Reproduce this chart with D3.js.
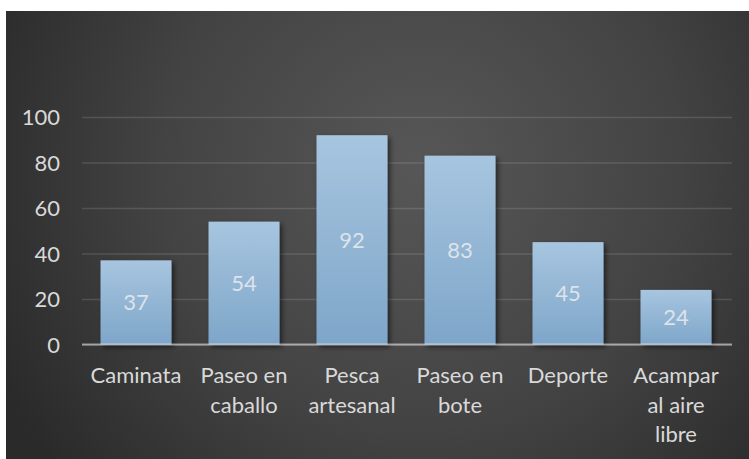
<!DOCTYPE html>
<html>
<head>
<meta charset="utf-8">
<script src="https://cdn.jsdelivr.net/npm/d3@7/dist/d3.min.js"></script>
<style>
  html, body { margin: 0; padding: 0; background: #ffffff; }
  svg { display: block; }
  text { font-family: Lato, "Open Sans", sans-serif; }
</style>
</head>
<body>
<svg id="chart" width="749" height="459"></svg>
<script>
// Activity counts
const categories = ["Caminata", "Paseo en caballo", "Pesca artesanal", "Paseo en bote", "Deporte", "Acampar al aire libre"];
const values = [37, 54, 92, 83, 45, 24];
const yTicks = [0, 20, 40, 60, 80, 100];

const W = 749, H = 459;
const frame = { x: 6, y: 11 };
const plot = { left: 82, right: 730, top: 117, bottom: 344.5 };
const textColor = "#d9d9d9";
const fontSize = 22;

const svg = d3.select("#chart");
const defs = svg.append("defs");

// Background: dark radial fill, brighter near the middle
const bg = defs.append("radialGradient")
  .attr("id", "bgGrad")
  .attr("gradientUnits", "userSpaceOnUse")
  .attr("cx", 420).attr("cy", 170).attr("r", 470);
bg.append("stop").attr("offset", "0%").attr("stop-color", "#575757");
bg.append("stop").attr("offset", "55%").attr("stop-color", "#434343");
bg.append("stop").attr("offset", "100%").attr("stop-color", "#2a2a2a");

// Bars: soft blue vertical gradient
const barGrad = defs.append("linearGradient")
  .attr("id", "barGrad").attr("x1", 0).attr("y1", 0).attr("x2", 0).attr("y2", 1);
barGrad.append("stop").attr("offset", "0%").attr("stop-color", "#a7c5df");
barGrad.append("stop").attr("offset", "100%").attr("stop-color", "#7ea6c9");

const shadow = defs.append("filter").attr("id", "barShadow")
  .attr("x", "-20%").attr("y", "-20%").attr("width", "150%").attr("height", "150%");
shadow.append("feDropShadow")
  .attr("dx", 2.5).attr("dy", 2.5).attr("stdDeviation", 2.5)
  .attr("flood-color", "#000").attr("flood-opacity", 0.55);

svg.append("rect")
  .attr("x", frame.x).attr("y", frame.y)
  .attr("width", W - frame.x).attr("height", H - frame.y)
  .attr("fill", "url(#bgGrad)");

const x = d3.scaleBand()
  .domain(categories)
  .range([plot.left, plot.right])
  .paddingInner(0.343)
  .paddingOuter(0.1715);

const y = d3.scaleLinear()
  .domain([0, 100])
  .range([plot.bottom, plot.top]);

// Gridlines and y tick labels
const yAxis = d3.axisLeft(y)
  .tickValues(yTicks)
  .tickSize(-(plot.right + 2 - plot.left))
  .tickPadding(22);

const yG = svg.append("g")
  .attr("transform", `translate(${plot.left},0)`)
  .call(yAxis);
yG.select(".domain").remove();
yG.selectAll(".tick line")
  .attr("stroke", "#ffffff").attr("stroke-opacity", 0.13).attr("stroke-width", 1.5);
yG.selectAll(".tick text")
  .attr("fill", textColor)
  .style("font-size", fontSize + "px")
  .attr("dy", "0.35em");

// Bars
svg.append("g").selectAll("rect")
  .data(values)
  .join("rect")
  .attr("x", (d, i) => x(categories[i]))
  .attr("y", d => y(d))
  .attr("width", x.bandwidth())
  .attr("height", d => y(0) - y(d))
  .attr("fill", "url(#barGrad)")
  .attr("filter", "url(#barShadow)");

// Baseline
svg.append("line")
  .attr("x1", plot.left).attr("x2", plot.right + 2)
  .attr("y1", y(0)).attr("y2", y(0))
  .attr("stroke", "#ffffff").attr("stroke-opacity", 0.5).attr("stroke-width", 2);

// Value labels centred in each bar
svg.append("g").selectAll("text")
  .data(values)
  .join("text")
  .attr("x", (d, i) => x(categories[i]) + x.bandwidth() / 2)
  .attr("y", d => (y(d) + y(0)) / 2)
  .attr("dy", "0.35em")
  .attr("text-anchor", "middle")
  .attr("fill", "#dde3ea")
  .style("font-size", fontSize + "px")
  .text(d => d);

// Category labels, wrapped to the band width
const xAxis = d3.axisBottom(x).tickSize(0).tickPadding(0);
const xG = svg.append("g")
  .attr("transform", `translate(0,${plot.bottom})`)
  .call(xAxis);
xG.select(".domain").remove();

const maxWidth = x.step() * 0.95;
const lineHeight = 29.5;
xG.selectAll(".tick text")
  .attr("fill", textColor)
  .style("font-size", fontSize + "px")
  .each(function (d) {
    const t = d3.select(this);
    const words = d.split(" ");
    t.text(null).attr("y", 0).attr("dy", null);
    const lines = [];
    let line = [];
    const probe = t.append("tspan");
    words.forEach(w => {
      const trial = line.concat(w).join(" ");
      probe.text(trial);
      if (line.length && probe.node().getComputedTextLength() > maxWidth) {
        lines.push(line.join(" "));
        line = [w];
      } else {
        line.push(w);
      }
    });
    lines.push(line.join(" "));
    probe.remove();
    lines.forEach((l, i) => {
      t.append("tspan")
        .attr("x", 0)
        .attr("y", 38.5 + i * lineHeight)
        .text(l);
    });
  });
</script>
</body>
</html>
